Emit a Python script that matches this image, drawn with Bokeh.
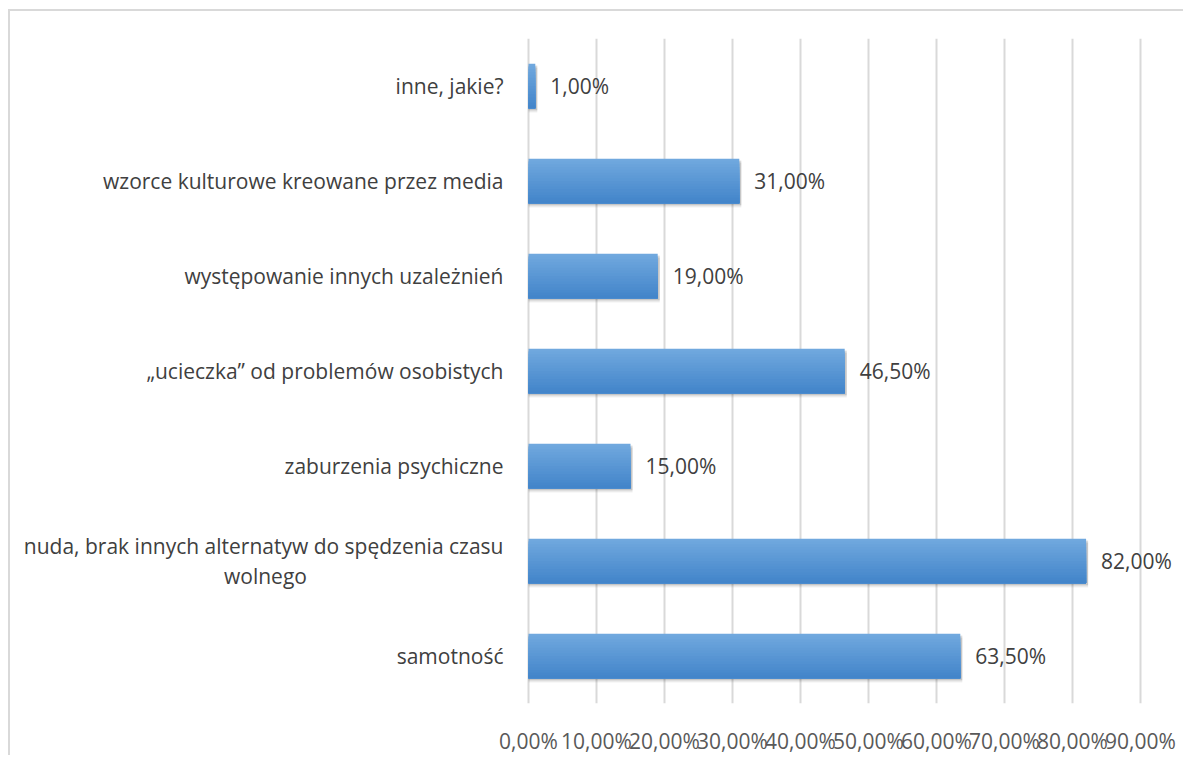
from bokeh.plotting import figure
from bokeh.models import FixedTicker, Range1d, ColumnDataSource, LabelSet
from bokeh.core.properties import value
from bokeh.embed import file_html
from bokeh.resources import INLINE

# ---- data (bottom to top) ----
categories = [
    "samotność",
    "nuda, brak innych alternatyw do spędzenia czasu\nwolnego",
    "zaburzenia psychiczne",
    "„ucieczka” od problemów osobistych",
    "występowanie innych uzależnień",
    "wzorce kulturowe kreowane przez media",
    "inne, jakie?",
]
values = [63.5, 82.0, 15.0, 46.5, 19.0, 31.0, 1.0]
value_labels = ["63,50%", "82,00%", "15,00%", "46,50%", "19,00%", "31,00%", "1,00%"]
tick_values = [0, 10, 20, 30, 40, 50, 60, 70, 80, 90]
tick_labels = ["0,00%", "10,00%", "20,00%", "30,00%", "40,00%", "50,00%",
               "60,00%", "70,00%", "80,00%", "90,00%"]

FONT = "Open Sans"
FS = "21px"
TXT = "#404040"

idx = list(range(len(categories)))

# layout geometry (pixels)
W, H = 1175, 746
ZERO_PX = 518          # distance of the 0% line from the left content edge
PX_PER_UNIT = 6.8      # pixels per percentage point
x_start = -ZERO_PX / PX_PER_UNIT
x_end = (W - ZERO_PX) / PX_PER_UNIT
TOP, BOTTOM = 27, 50
band_px = (H - TOP - BOTTOM) / len(categories)

p = figure(width=W, height=H, output_backend="svg", toolbar_location=None,
           x_range=Range1d(x_start, x_end),
           y_range=Range1d(-0.5, len(categories) - 0.5),
           min_border_left=0, min_border_right=0, min_border_top=TOP,
           min_border_bottom=BOTTOM)
p.styles = {"border-left": "2px solid #d9d9d9", "border-top": "2px solid #d9d9d9",
            "margin-left": "8px", "margin-top": "9px"}
p.outline_line_color = None
p.background_fill_color = "white"
p.border_fill_color = "white"

p.yaxis.visible = False
p.ygrid.visible = False
xa = p.xaxis[0]
xa.ticker = FixedTicker(ticks=tick_values)
xa.major_label_overrides = {t: l for t, l in zip(tick_values, tick_labels)}
xa.axis_line_color = None
xa.major_tick_line_color = None
xa.minor_tick_line_color = None
xa.major_label_standoff = 17
xa.major_label_text_font = FONT
xa.major_label_text_font_size = FS
xa.major_label_text_color = "#595959"
p.xgrid.ticker = FixedTicker(ticks=tick_values)
p.xgrid.grid_line_color = "#d9d9d9"
p.xgrid.grid_line_width = 2

BH = 0.47
# soft shadow
for dy, a in [(0.045, 0.06), (0.03, 0.08), (0.018, 0.1)]:
    p.hbar(y=[i - dy for i in idx], left=0, right=[v + 0.3 for v in values],
           height=BH, fill_color="#000000", fill_alpha=a, line_color=None)
# gradient bars: nested bars anchored at bar bottom, darker towards bottom
top_c = (0x70, 0xA8, 0xDE)
bot_c = (0x43, 0x85, 0xCA)
n = 16
for k in range(n):
    t = k / (n - 1)
    c = tuple(int(round(top_c[j] + (bot_c[j] - top_c[j]) * t)) for j in range(3))
    col = "#%02x%02x%02x" % c
    hk = BH * (1 - k / n)
    p.hbar(y=[i - BH / 2 + hk / 2 for i in idx], left=0, right=values, height=hk,
           fill_color=col, line_color=None)

# value labels
vsrc = ColumnDataSource(dict(x=values, y=idx, t=value_labels))
p.add_layout(LabelSet(x="x", y="y", text="t", source=vsrc, x_offset=15,
                      text_align="left", text_baseline="middle",
                      text_font=value(FONT), text_font_size=FS, text_color=TXT))

# category labels (multi-line ones: first line right-aligned, rest centred under it)
xs, ys, ts = [], [], []
cx, cy, ct = [], [], []
LINE = 30 / band_px
for i, c in zip(idx, categories):
    lines = c.split("\n")
    y0 = i + (len(lines) - 1) * LINE / 2
    xs.append(0); ys.append(y0); ts.append(lines[0])
    for j, ln in enumerate(lines[1:], start=1):
        cx.append(0); cy.append(y0 - j * LINE); ct.append(ln)
p.add_layout(LabelSet(x="x", y="y", text="t",
                      source=ColumnDataSource(dict(x=xs, y=ys, t=ts)),
                      x_offset=-25, text_align="right", text_baseline="middle",
                      text_font=value(FONT), text_font_size=FS, text_color=TXT))
if ct:
    first_w = 476  # width of the long first line in pixels
    p.add_layout(LabelSet(x="x", y="y", text="t",
                          source=ColumnDataSource(dict(x=cx, y=cy, t=ct)),
                          x_offset=-25 - first_w / 2, text_align="center",
                          text_baseline="middle", text_font=value(FONT),
                          text_font_size=FS, text_color=TXT))

open("out.html", "w").write(file_html(p, INLINE))
